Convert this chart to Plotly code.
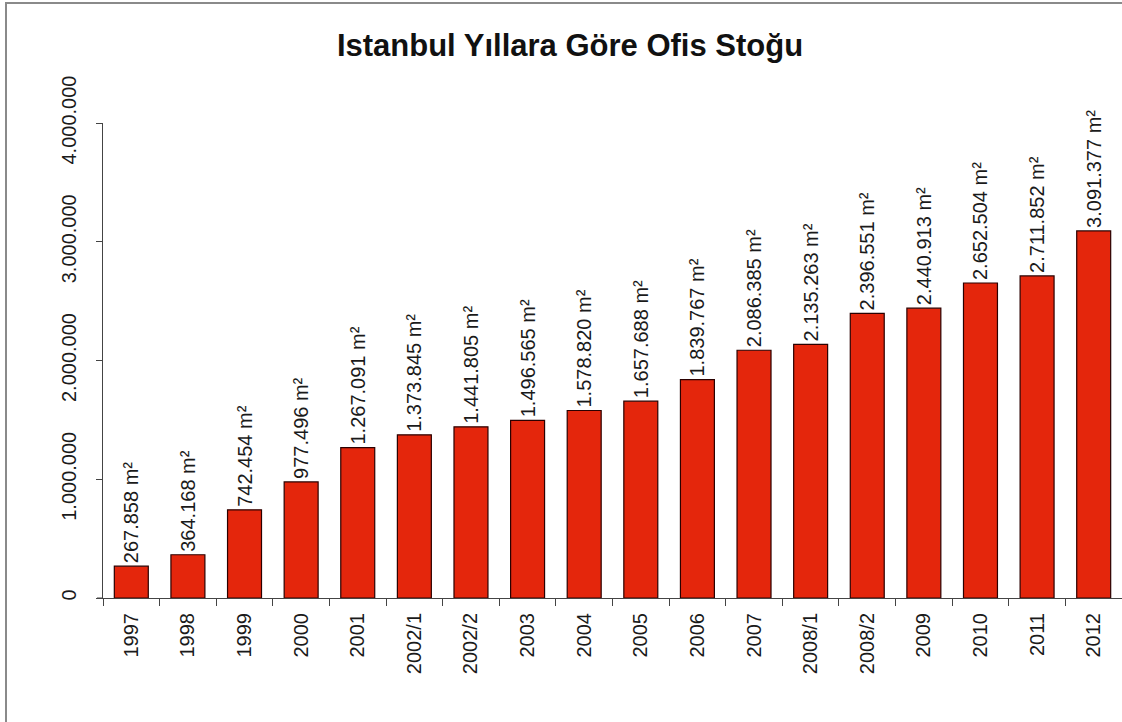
import plotly.graph_objects as go

categories = ["1997", "1998", "1999", "2000", "2001", "2002/1", "2002/2", "2003", "2004",
              "2005", "2006", "2007", "2008/1", "2008/2", "2009", "2010", "2011", "2012"]
values = [267858, 364168, 742454, 977496, 1267091, 1373845, 1441805, 1496565, 1578820,
          1657688, 1839767, 2086385, 2135263, 2396551, 2440913, 2652504, 2711852, 3091377]
y_ticks = [0, 1000000, 2000000, 3000000, 4000000]
title_text = "Istanbul Yıllara Göre Ofis Stoğu"


def fmt(v):
    return f"{v:,}".replace(",", ".") + " m²"


labels = [fmt(v) for v in values]

W, H = 1122, 722
L, R, T, B = 103, 0, 123, 124
plot_w = W - L - R
plot_h = H - T - B

FONT = "Liberation Sans, Arial, sans-serif"

fig = go.Figure()
fig.add_trace(go.Bar(
    x=categories, y=values, text=labels,
    textposition="outside", textangle=-90, cliponaxis=False,
    textfont=dict(family=FONT, size=20, color="#1a1a1a"),
    constraintext="none",
    marker=dict(color="#e4260c", line=dict(color="#2a0000", width=1.2)),
    width=0.6,
))


def px_x(p):
    return (p - L) / plot_w


def px_y(p):
    return (H - B - p) / plot_h


fig.update_layout(
    width=W, height=H,
    margin=dict(l=L, r=R, t=T, b=B, autoexpand=False),
    paper_bgcolor="white", plot_bgcolor="white",
    separators=",.",
    showlegend=False,
    font=dict(family=FONT, color="#1a1a1a"),
    title=dict(text="<b>" + title_text + "</b>", x=570 / W, xref="container", xanchor="center",
               y=1 - 45 / H, yref="container", yanchor="middle",
               font=dict(family=FONT, size=31, color="#111")),
    xaxis=dict(
        type="category", showgrid=False, showline=True, linecolor="#444", linewidth=1,
        ticks="outside", ticklen=7, tickcolor="#444", tickson="boundaries",
        tickangle=-90, tickfont=dict(family=FONT, size=20, color="#1a1a1a"),
        ticklabelstandoff=6,
        range=[-0.5, len(categories) - 0.5], fixedrange=True,
    ),
    yaxis=dict(
        range=[0, 4000000], tickvals=y_ticks, tickformat=",.0f",
        showgrid=False, showline=True, linecolor="#444", linewidth=1,
        ticks="outside", ticklen=6, tickcolor="#444",
        tickangle=-90, tickfont=dict(family=FONT, size=20, color="#1a1a1a"),
        ticklabelstandoff=12, zeroline=False, fixedrange=True,
    ),
    shapes=[
        dict(type="rect", xref="paper", yref="paper",
             x0=px_x(6), x1=px_x(1140), y0=px_y(3), y1=px_y(760),
             line=dict(color="#8a8a8a", width=2), fillcolor="rgba(0,0,0,0)", layer="below"),
        dict(type="line", xref="paper", yref="paper",
             x0=px_x(97), x1=0, y0=0, y1=0,
             line=dict(color="#444", width=1)),
    ],
)

fig.write_html("out.html", config={"displayModeBar": False},
               post_script="document.body.style.margin='0';document.body.style.overflow='hidden';")
